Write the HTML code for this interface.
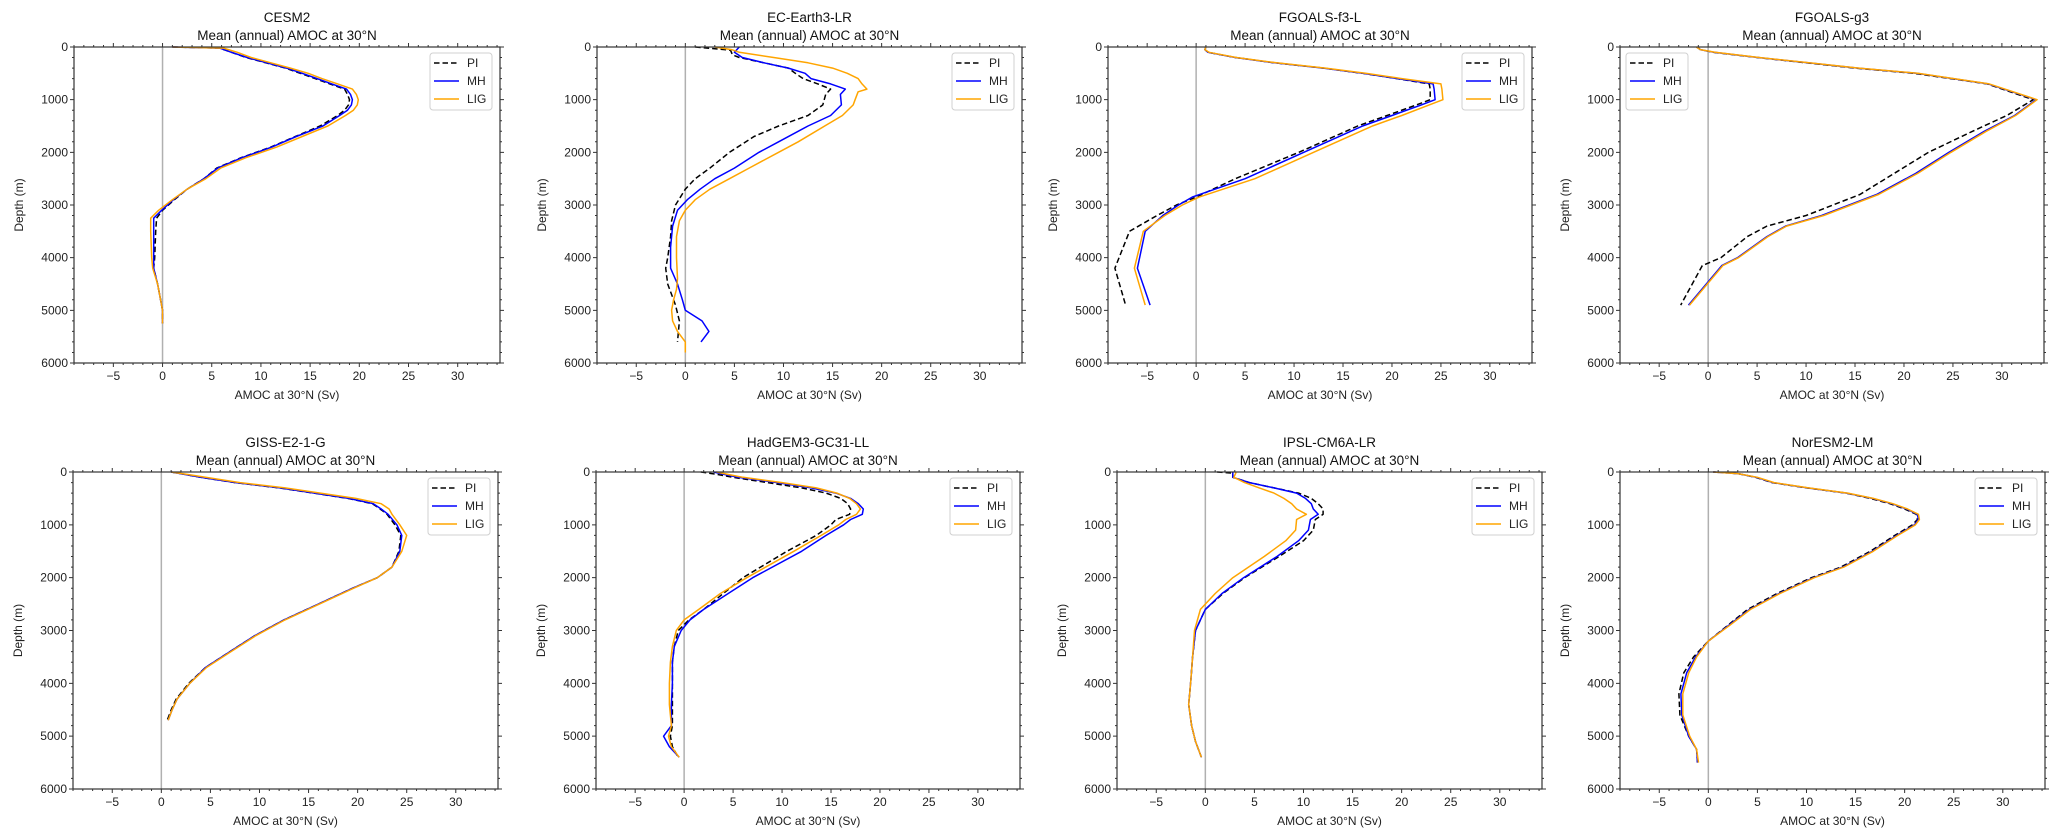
<!DOCTYPE html>
<html><head><meta charset="utf-8">
<style>
html,body{margin:0;padding:0;background:#fff;}
svg{display:block;font-family:"Liberation Sans","DejaVu Sans",sans-serif;}
</style></head>
<body>
<svg id="fig" width="2067" height="839" viewBox="0 0 2067 839" xmlns="http://www.w3.org/2000/svg"></svg>
<script>
// ---- data ----
const modelNames = ["CESM2","EC-Earth3-LR","FGOALS-f3-L","FGOALS-g3","GISS-E2-1-G","HadGEM3-GC31-LL","IPSL-CM6A-LR","NorESM2-LM"];
const seriesNames = ["PI","MH","LIG"];
const xTicks = [-5,0,5,10,15,20,25,30];
const yTicks = [0,1000,2000,3000,4000,5000,6000];

const cesmDepth = [0,20,100,200,300,400,500,600,700,800,900,1000,1100,1200,1300,1500,1700,1900,2100,2300,2500,2700,2900,3100,3250,3500,4000,4200,4500,4800,5000,5250];
const cesmPI  = [1,5.8,7,8.5,10.5,12.5,14,15.5,17,18.5,18.8,19.0,18.9,18.5,17.8,16,13.5,11,8,5.5,4.2,2.5,1.2,0,-0.6,-0.7,-0.8,-0.9,-0.5,-0.2,0,0];
const cesmMH  = [1,5.8,7,8.6,10.6,12.6,14.2,15.7,17.2,18.7,19.1,19.3,19.2,18.8,18.0,16.3,13.6,11.1,8.1,5.6,4.2,2.5,1.1,-0.1,-0.9,-0.9,-0.9,-0.9,-0.5,-0.2,0,0];
const cesmLIG = [1,6.2,7.6,9,11,13,14.8,16.2,17.8,19.3,19.7,19.9,19.8,19.4,18.6,16.8,14.2,11.6,8.5,5.9,4.4,2.5,1.0,-0.4,-1.2,-1.2,-1.1,-1.0,-0.5,-0.2,0,0];

const ecPIDepth = [0,60,150,200,300,400,500,600,700,800,900,1100,1300,1500,1700,2000,2300,2500,2700,3000,3300,3600,4000,4200,4500,4900,5200,5600];
const ecPI  = [1.0,4.6,4.8,5.5,8,10.5,11.2,12,13.5,14.8,14.3,14,12.5,9.5,7,4.5,2.5,1.0,0,-1,-1.4,-1.5,-1.8,-2,-1.8,-1.0,-0.6,-0.8];
const ecMHDepth = [0,100,200,300,400,500,600,700,800,900,1100,1300,1500,1800,2000,2300,2500,2700,2900,3100,3400,3800,4200,4500,4800,5000,5200,5400,5600];
const ecMH  = [5.5,5.0,5.8,8,10.5,12.2,12.8,14.8,16.3,15.8,15.9,14.8,12.5,9.5,7.5,5,3,1.5,0.2,-0.8,-1.3,-1.5,-1.5,-0.8,-0.3,0.0,1.7,2.4,1.6];
const ecLIGDepth = [0,50,100,200,300,400,500,600,700,800,850,1000,1100,1300,1500,1800,2000,2300,2500,2700,2900,3100,3300,3600,4000,4400,4600,4800,5000,5200,5400,5600,5800];
const ecLIG = [3,4.7,5.5,9,12.5,15,16.5,17.6,18.0,18.5,17.6,17.3,17.1,16.0,14.2,11.5,9.5,6.5,4.5,2.5,1.0,0.0,-0.6,-0.9,-0.9,-0.8,-0.9,-1.2,-1.4,-1.3,-0.8,0,0];

const f3Depth = [0,50,100,200,300,400,500,600,700,800,1000,1100,1300,1500,2000,2500,2850,3000,3200,3500,4200,4900];
const f3PI  = [1.0,0.9,1.2,4,8,13,17,20.5,23.8,23.9,23.9,22.5,19.5,16.5,10.5,4,0,-2,-4,-6.8,-8.3,-7.2];
const f3MH  = [1.0,0.9,1.2,4,8,13,17,20.6,24.2,24.3,24.4,23,20,17,11,5,-0.4,-1.8,-3.4,-5.2,-6,-4.7];
const f3LIG = [1.0,0.9,1.3,4.1,8.2,13.2,17.3,21,25,25.1,25.2,23.8,21,18,12,6,0.3,-1.4,-3.2,-5.4,-6.3,-5.2];

const g3Depth = [0,50,100,200,300,400,500,700,1000,1300,1600,2000,2400,2800,3200,3400,3600,4000,4150,4900];
const g3PI  = [-1.1,-0.8,0.5,5,10,15,21,28.5,33.2,30.5,27,22.5,19,15.5,10,6,4,1.3,-0.6,-2.8];
const g3MH  = [-1.2,-0.8,0.6,5.1,10.2,15.3,21.3,28.6,33.5,31.3,28.2,24.6,21.2,17.2,11.6,7.9,6,3,1.4,-2.0];
const g3LIG = [-1.2,-0.8,0.7,5.2,10.3,15.4,21.4,28.7,33.6,31.4,28.4,24.8,21.4,17.4,11.8,8,6.1,3.1,1.5,-1.9];

const gissDepth = [0,50,100,200,300,400,500,600,700,800,1000,1200,1500,1800,2000,2200,2500,2800,3100,3400,3700,4000,4300,4500,4700];
const gissPI  = [1.0,2.5,4,7.5,12,15.5,19,21.5,22.3,23,23.8,24.4,24.2,23.5,22,19.5,16,12.5,9.5,7,4.5,2.8,1.5,1.0,0.6];
const gissMH  = [1.0,2.5,4,7.6,12.1,15.6,19.1,21.6,22.4,23.1,24.0,24.5,24.3,23.5,22,19.5,16,12.5,9.5,7,4.5,2.9,1.6,1.1,0.7];
const gissLIG = [1.0,2.8,4.5,8,12.6,16.2,19.8,22.4,23.2,23.5,24.3,25.0,24.5,23.5,22.0,19.6,16.1,12.6,9.6,7.1,4.6,2.9,1.6,1.1,0.7];

const hadDepth = [0,50,100,200,300,400,500,600,700,800,900,1000,1200,1500,2000,2300,2600,2800,3000,3300,3600,4000,4400,4800,5000,5200,5400];
const hadPI  = [1.7,3.5,5,8.5,12,14.5,16,16.7,17,16.9,15.5,15,13.5,10.5,6.0,4,2,0.5,-0.6,-1,-1.2,-1.2,-1.2,-1.2,-1.4,-1.2,-0.6];
const hadMH  = [3,4.2,5.5,9.5,13,15.5,17,17.8,18.3,18.2,17,16.3,14.5,12,7,4.5,2.0,0.6,-0.3,-1.0,-1.2,-1.2,-1.3,-1.3,-2.1,-1.5,-0.5];
const hadLIG = [3.3,4.6,6,10,13.5,15.6,16.9,17.6,18,17.6,16.5,15.8,14,11.2,6.4,3.7,1.5,0,-0.8,-1.2,-1.4,-1.5,-1.5,-1.3,-1.6,-1.3,-0.5];

const ipslDepth = [0,20,100,200,300,400,500,600,700,800,900,1100,1300,1600,2000,2300,2600,3000,3500,4000,4400,4800,5100,5400];
const ipslPI  = [1.2,2.8,2.8,4.5,7,9.5,10.8,11.5,12.0,12.0,11.2,11.0,10,7.5,4,1.8,0,-1,-1.3,-1.5,-1.7,-1.4,-1.0,-0.4];
const ipslMH  = [2.8,2.8,2.8,4.5,7,9.3,10.2,10.8,11.0,11.5,10.7,10.5,9.5,7.3,3.9,1.7,0,-1,-1.3,-1.5,-1.7,-1.4,-1.0,-0.4];
const ipslLIG = [3.1,3.1,2.9,4,5.5,7,8,8.8,9.3,10.3,9.3,9.2,8.2,6,2.8,1,-0.5,-1.1,-1.3,-1.5,-1.7,-1.4,-1.0,-0.4];

const norDepth = [0,30,100,200,300,400,500,600,700,800,900,1000,1200,1500,1800,2000,2300,2600,2900,3200,3500,3800,4200,4600,5000,5250,5500];
const norPI  = [0.5,3,4.8,6.5,10,14,16.5,18.5,20,21.2,21.3,20.8,19,16.5,13.5,10.5,7,4,2,0,-1.5,-2.5,-3.0,-2.9,-2.0,-1.2,-1.1];
const norMH  = [0.5,3,4.9,6.6,10.1,14.1,16.7,18.7,20.2,21.3,21.4,21.0,19.2,16.7,13.7,10.7,7.2,4.2,2.1,0,-1.3,-2.2,-2.8,-2.7,-2.0,-1.2,-1.1];
const norLIG = [0.5,3,5,6.7,10.2,14.2,16.8,18.8,20.3,21.4,21.5,21.1,19.3,16.8,13.8,10.8,7.3,4.3,2.2,0,-1.2,-2.0,-2.6,-2.6,-1.9,-1.2,-1.0];

const panelSeries = [
  [[cesmDepth,cesmPI],[cesmDepth,cesmMH],[cesmDepth,cesmLIG]],
  [[ecPIDepth,ecPI],[ecMHDepth,ecMH],[ecLIGDepth,ecLIG]],
  [[f3Depth,f3PI],[f3Depth,f3MH],[f3Depth,f3LIG]],
  [[g3Depth,g3PI],[g3Depth,g3MH],[g3Depth,g3LIG]],
  [[gissDepth,gissPI],[gissDepth,gissMH],[gissDepth,gissLIG]],
  [[hadDepth,hadPI],[hadDepth,hadMH],[hadDepth,hadLIG]],
  [[ipslDepth,ipslPI],[ipslDepth,ipslMH],[ipslDepth,ipslLIG]],
  [[norDepth,norPI],[norDepth,norMH],[norDepth,norLIG]]
];
const legendLeft = [false,false,false,true,false,false,false,false];

// ---- layout ----
const boxes = [[74,500,47,363],[597,1022,47,363],[1108,1532,47,363],[1620,2044,47,363],
               [73,498,472,789],[596,1020,472,789],[1117,1542,472,789],[1620,2045,472,789]];
const XMIN=-9.0, XMAX=34.3, YMIN=0, YMAX=6000;
const colors=["#000000","#0000ff","#ffa500"];
const NS="http://www.w3.org/2000/svg";
const svg=document.getElementById('fig');
function mk(tag,attrs,parent){const e=document.createElementNS(NS,tag);for(const k in attrs)e.setAttribute(k,attrs[k]);(parent||svg).appendChild(e);return e;}

boxes.forEach((b,i)=>{
  const [L,R,T,B]=b;
  const sx=v=>L+(v-XMIN)/(XMAX-XMIN)*(R-L);
  const sy=d=>T+(d-YMIN)/(YMAX-YMIN)*(B-T);
  const g=mk('g',{});
  
  
  // title
  const t1=mk('text',{x:(L+R)/2,y:T-25,'text-anchor':'middle','font-size':'13.5',fill:'#111'},g);
  t1.textContent=modelNames[i];
  
  
  const t2=mk('text',{x:(L+R)/2,y:T-7,'text-anchor':'middle','font-size':'13.5',fill:'#111'},g);
  t2.textContent='Mean (annual) AMOC at 30°N';
  
  
  // zero line
  const z=mk('line',{x1:sx(0),x2:sx(0),y1:T,y2:B,stroke:'#b0b0b0','stroke-width':1.5},g);
  
  
  // series
  panelSeries[i].forEach((s,k)=>{
    const pts=s[0].map((d,j)=>sx(s[1][j]).toFixed(1)+','+sy(d).toFixed(1)).join(' ');
    const p=mk('polyline',{points:pts,fill:'none',stroke:colors[k],'stroke-width':1.5,'stroke-linejoin':'round'},g);
    if(k===0)p.setAttribute('stroke-dasharray','5.5,3');
    
    
  });
  // frame
  const fr=mk('rect',{x:L,y:T,width:R-L,height:B-T,fill:'none',stroke:'#333','stroke-width':1.2},g);
  
  
  // ticks
  let tk='';
  for(let v=-9;v<=34;v++){const x=sx(v);const len=(v%5===0)?4:2;
    tk+=`M${x},${B}v${len}M${x},${T}v${-len}`;}
  for(let d=0;d<=6000;d+=200){const y=sy(d);const len=(d%1000===0)?4:2;
    tk+=`M${L},${y}h${-len}M${R},${y}h${len}`;}
  const tp=mk('path',{d:tk,stroke:'#333','stroke-width':1,fill:'none'},g);
  
  
  xTicks.forEach(v=>{
    const tx=mk('text',{x:sx(v),y:B+17,'text-anchor':'middle','font-size':'12',fill:'#222'},g);
    tx.textContent=v<0?'\u2212'+Math.abs(v):String(v);
    
    
  });
  yTicks.forEach(d=>{
    const ty=mk('text',{x:L-6,y:sy(d)+4,'text-anchor':'end','font-size':'12',fill:'#222'},g);
    ty.textContent=String(d);
    
    
  });
  const xl=mk('text',{x:(L+R)/2,y:B+36,'text-anchor':'middle','font-size':'12',fill:'#222'},g);
  xl.textContent='AMOC at 30°N (Sv)';
  
  
  const yx=L-51, yy=(T+B)/2;
  const yl=mk('text',{x:yx,y:yy,'text-anchor':'middle','font-size':'12',fill:'#222',transform:`rotate(-90 ${yx} ${yy})`},g);
  yl.textContent='Depth (m)';
  
  
  // legend
  const lx=legendLeft[i]?L+6:R-8-62, ly=T+6;
  const lg=mk('g',{},g);
  
  
  mk('rect',{x:lx,y:ly,width:62,height:57,rx:3,fill:'#fff','fill-opacity':0.85,stroke:'#d0d0d0','stroke-width':1},lg);
  seriesNames.forEach((n,k)=>{
    const yy2=ly+10+k*18;
    const ll=mk('line',{x1:lx+4,x2:lx+29,y1:yy2,y2:yy2,stroke:colors[k],'stroke-width':1.5},lg);
    if(k===0)ll.setAttribute('stroke-dasharray','5.5,3');
    
    
    const lt=mk('text',{x:lx+37,y:yy2+4,'font-size':'12',fill:'#222'},lg);
    lt.textContent=n;
    
    
  });
});
</script>
</body></html>
